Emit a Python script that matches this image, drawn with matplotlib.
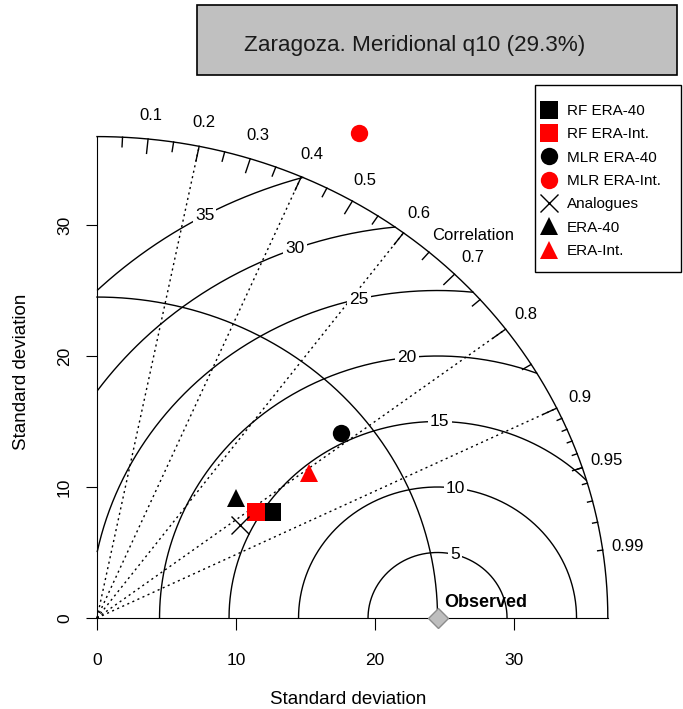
import numpy as np
import matplotlib
matplotlib.use("Agg")
import matplotlib.pyplot as plt
from matplotlib.lines import Line2D
from matplotlib.patches import Rectangle

plt.rcParams['font.family'] = ['Liberation Sans', 'DejaVu Sans']

# ---- dati
TITLE = "Zaragoza. Meridional q10 (29.3%)"
SD_OBS = 24.5
SD_MAX = 36.75

MODELS = ["RF ERA-40", "RF ERA-Int.", "MLR ERA-40", "MLR ERA-Int.",
          "Analogues", "ERA-40", "ERA-Int."]
SD = [14.98, 14.03, 22.50, 41.53, 12.50, 13.55, 18.88]
CORR = [0.842, 0.817, 0.779, 0.454, 0.823, 0.738, 0.809]
MARKERS = ["s", "s", "o", "o", "x", "^", "^"]
COLORS = ["black", "red", "black", "red", "black", "black", "red"]

CORR_LINES = [0.2, 0.4, 0.6, 0.8, 0.9]
CORR_LABELS = [0.1, 0.2, 0.3, 0.4, 0.5, 0.6, 0.7, 0.8, 0.9, 0.95, 0.99]
TICKS_BIG = [0.1, 0.2, 0.3, 0.4, 0.5, 0.6, 0.7, 0.8, 0.9]
TICKS_MED = [0.05, 0.15, 0.25, 0.35, 0.45, 0.55, 0.65, 0.75, 0.85, 0.95]
TICKS_SML = [0.91, 0.92, 0.93, 0.94, 0.95, 0.96, 0.97, 0.98, 0.99]

RMS_LEVELS = [5, 10, 15, 20, 25, 30, 35]
RMS_LABEL_DEG = [75.6, 82.5, 89.4, 96.3, 103.1, 110.0, 118.6]

SD_TICKS = [0, 10, 20, 30]

fig = plt.figure(figsize=(6.83, 7.09), dpi=100)
ax = fig.add_axes([0.1013, 0.0914, 0.8853, 0.776])
ax.set_xlim(-2, 41.5)
ax.set_ylim(-2, 40)

# assi a forma di L
for s in ("top", "right"):
    ax.spines[s].set_visible(False)
ax.spines["left"].set_position(("data", 0))
ax.spines["bottom"].set_position(("data", 0))
ax.spines["left"].set_bounds(0, SD_MAX)
ax.spines["bottom"].set_bounds(0, SD_MAX)
ax.set_xticks(SD_TICKS)
ax.set_yticks(SD_TICKS)
ax.tick_params(axis="x", direction="out", length=8.5, pad=17, labelsize=12.5)
ax.tick_params(axis="y", direction="out", length=8, pad=10, labelsize=12.5,
               labelrotation=90)
for lab in ax.get_yticklabels():
    lab.set_va("center")

t = np.linspace(0, np.pi / 2, 300)
ax.plot(SD_MAX * np.cos(t), SD_MAX * np.sin(t), color="black", lw=1)
ax.plot(SD_OBS * np.cos(t), SD_OBS * np.sin(t), color="black", lw=1)

# linee di correlazione
for c in CORR_LINES:
    ax.plot([0, SD_MAX * c], [0, SD_MAX * np.sqrt(1 - c ** 2)],
            color="black", lw=1, ls=(0, (1.5, 2.5)))

# tacche sull'arco
for vals, frac in ((TICKS_BIG, 0.97), (TICKS_MED, 0.98), (TICKS_SML, 0.99)):
    for c in vals:
        a = np.arccos(c)
        ax.plot([np.cos(a) * SD_MAX, np.cos(a) * SD_MAX * frac],
                [np.sin(a) * SD_MAX, np.sin(a) * SD_MAX * frac],
                color="black", lw=1)
for c in CORR_LABELS:
    a = np.arccos(c)
    ax.text(np.cos(a) * 1.05 * SD_MAX, np.sin(a) * 1.05 * SD_MAX, f"{c:g}",
            ha="center", va="center", fontsize=12)
ax.text(27.05, 29.2, "Correlation", ha="center", va="center", fontsize=12)

# contorni RMS centrati sull'osservato
th = np.linspace(0, np.pi, 600)
for g, deg in zip(RMS_LEVELS, RMS_LABEL_DEG):
    x = SD_OBS + g * np.cos(th)
    y = g * np.sin(th)
    ok = (x >= 0) & (x ** 2 + y ** 2 <= SD_MAX ** 2)
    ax.plot(np.where(ok, x, np.nan), np.where(ok, y, np.nan),
            color="black", lw=1)
    r = np.radians(deg)
    ax.text(SD_OBS + g * np.cos(r), g * np.sin(r), str(g), ha="center",
            va="center", fontsize=12.5, zorder=4,
            bbox=dict(facecolor="white", edgecolor="none", pad=1.5))

# osservato
ax.plot([SD_OBS], [0], marker="D", markersize=10, color="#BEBEBE",
        markeredgecolor="#8C8C8C", markeredgewidth=1, clip_on=False, zorder=6)
ax.text(SD_OBS + 0.5, 1.15, "Observed", ha="left", va="center",
        fontsize=13, fontweight="bold")

# modelli
handles = []
for name, sd, c, m, col in zip(MODELS, SD, CORR, MARKERS, COLORS):
    ms = {"s": 12.5, "o": 12.5, "x": 13, "^": 13.5}[m]
    kw = dict(marker=m, markersize=ms, color=col, linestyle="none")
    kw["markeredgewidth"] = 1 if m == "x" else 0
    ax.plot([sd * c], [sd * np.sqrt(1 - c ** 2)], clip_on=False, zorder=7, **kw)
    handles.append(Line2D([], [], label=name, **kw))

# legenda: cornice disegnata a parte
fig.patches.append(Rectangle((535 / 683, 1 - 272 / 709), 146 / 683, 187 / 709,
                             transform=fig.transFigure, facecolor="white",
                             edgecolor="black", lw=1))
fig.legend(handles=handles, loc="upper left",
           bbox_to_anchor=(541.4 / 683, 1 - 104 / 709), fontsize=11,
           frameon=False, labelspacing=0.61, handlelength=1.0,
           handletextpad=0.67, borderpad=0, borderaxespad=0)

fig.text(348 / 683, 1 - 700 / 709, "Standard deviation", ha="center",
         va="center", fontsize=13.5)
fig.text(22 / 683, 1 - 372 / 709, "Standard deviation", ha="center",
         va="center", fontsize=13.5, rotation=90)

# riquadro titolo
fig.patches.append(Rectangle((197 / 683, 1 - 75 / 709), 480 / 683, 70 / 709,
                             transform=fig.transFigure, facecolor="#C0C0C0",
                             edgecolor="black", lw=1.2))
fig.text(415 / 683, 1 - 45 / 709, TITLE, ha="center", va="center",
         fontsize=16.2, color="#1a1a1a")

fig.savefig("out.png", dpi=100)
